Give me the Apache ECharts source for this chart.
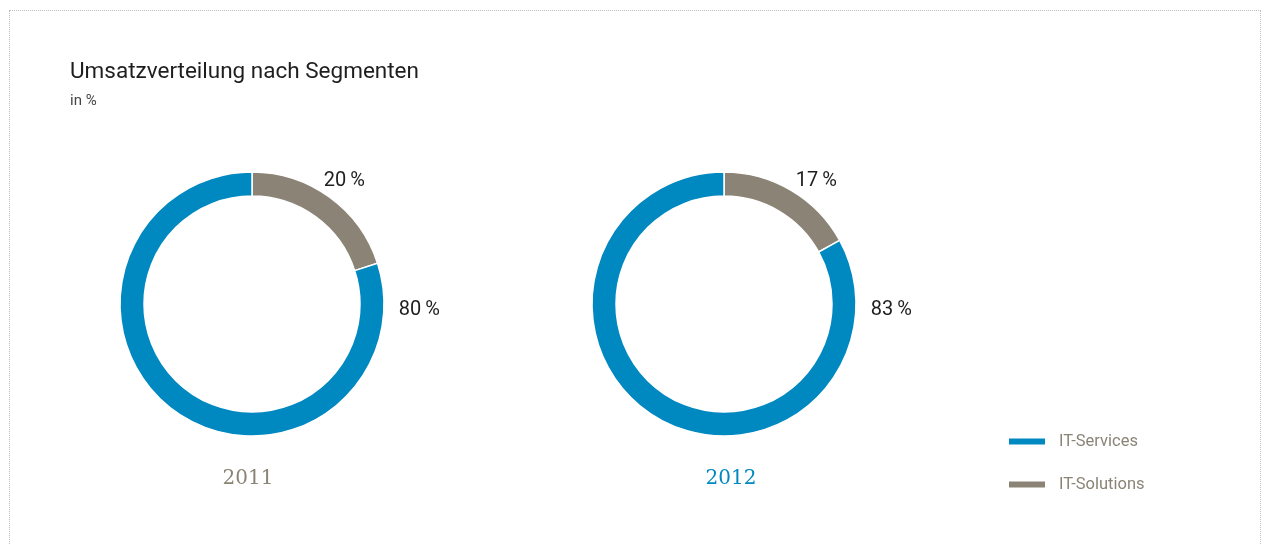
<!DOCTYPE html>
<html>
<head>
<meta charset="utf-8">
<script src="https://cdn.jsdelivr.net/npm/echarts@6/dist/echarts.min.js"></script>
<style>
  html, body { margin: 0; padding: 0; background: #fff; }
  .frame {
    position: absolute; left: 9px; top: 10px; width: 1252px; height: 600px;
    border: 1px dotted #bdbdbd; box-sizing: border-box;
  }
  .charts { position: absolute; left: 0; top: 0; width: 1265px; height: 544px; }
</style>
</head>
<body>
<div class="frame"></div>
<div class="charts" id="charts"></div>
<script>
// Werte aus der Grafik
var years = ['2011', '2012'];
var categories = ['IT-Services', 'IT-Solutions'];
var itServices = [80, 83];
var itSolutions = [20, 17];

var colors = { 'IT-Services': '#0088c1', 'IT-Solutions': '#8b8476' };
var yearColors = ['#8b8476', '#0088c1'];
var centersX = [252, 724];
var yearX = [248, 731];

var chartDom = document.getElementById('charts');
var myChart = echarts.init(chartDom);

var series = years.map(function (year, i) {
    return {
        type: 'pie',
        name: year,
        center: [centersX[i], 304],
        radius: [108, 132],
        startAngle: 90,
        clockwise: true,
        silent: true,
        itemStyle: { borderColor: '#fff', borderWidth: 1.5 },
        label: {
            show: true,
            position: 'outside',
            formatter: function (p) { return p.value + '\u2009%'; },
            fontFamily: 'Roboto',
            fontSize: 20,
            color: '#1e1e1e'
        },
        labelLine: { show: false },
        // grau zuerst, dann blau (im Uhrzeigersinn ab 12 Uhr)
        data: [
            { name: categories[1], value: itSolutions[i], itemStyle: { color: colors[categories[1]] } },
            { name: categories[0], value: itServices[i], itemStyle: { color: colors[categories[0]] } }
        ],
        labelLayout: function (p) {
            if (p.dataIndex === 1) { // grosses Segment: rechts neben dem Ring
                return { x: p.rect.x + p.rect.width + 14, y: p.rect.y + p.rect.height / 2 + 6, align: 'left', verticalAlign: 'middle' };
            }
            return { x: p.rect.x + 93, y: p.rect.y + 10, align: 'center', verticalAlign: 'middle' };
        }
    };
});

var option = {
    backgroundColor: 'transparent',
    animation: false,
    title: [
        {
            text: 'Umsatzverteilung nach Segmenten',
            subtext: 'in %',
            left: 70, top: 61,
            padding: 0,
            itemGap: 10,
            textStyle: { fontFamily: 'Roboto', fontSize: 22.5, fontWeight: 'normal', color: '#1e1e1e' },
            subtextStyle: { fontFamily: 'Roboto', fontSize: 15, color: '#444' }
        }
    ].concat(years.map(function (year, i) {
        return {
            text: year,
            left: yearX[i],
            top: 469,
            padding: 0,
            textAlign: 'center',
            textStyle: { fontFamily: 'DejaVu Serif', fontSize: 20, fontWeight: 'normal', color: yearColors[i] }
        };
    })),
    legend: {
        data: categories,
        orient: 'vertical',
        left: 1002, top: 428,
        icon: 'rect',
        itemWidth: 38, itemHeight: 8,
        itemGap: 26,
        selectedMode: false,
        textStyle: { fontFamily: 'Roboto', fontSize: 16.5, color: '#8b8476', padding: [0, 0, 0, 8] }
    },
    series: series
};

option && myChart.setOption(option);
</script>
</body>
</html>
